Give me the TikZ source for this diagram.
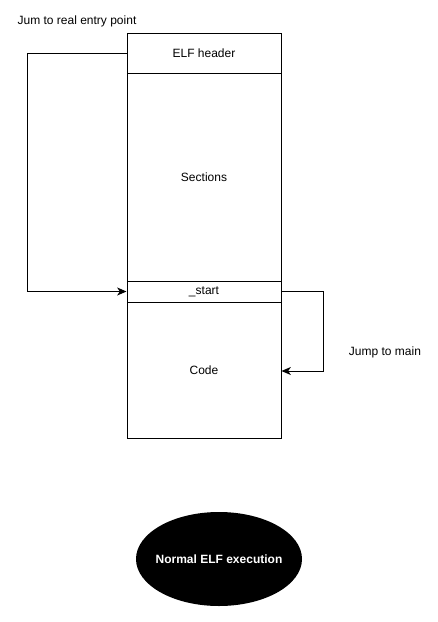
\documentclass[tikz,border=0pt]{standalone}
\usepackage{fontspec}
\setmainfont{Liberation Sans}
\usetikzlibrary{arrows.meta,shapes.geometric}
\begin{document}
\begin{tikzpicture}[x=0.75pt,y=-0.75pt,
  box/.style={draw,line width=0.75pt,rectangle,inner sep=0pt,minimum width=115.5pt,font=\fontsize{9}{11}\selectfont},
  lbl/.style={font=\fontsize{9}{11}\selectfont,inner sep=0pt},
  conn/.style={draw,line width=0.75pt,-{Stealth[length=7pt,width=6pt,inset=2pt]}},
  term/.style={ellipse,fill=black,text=white,minimum width=124.5pt,minimum height=70.5pt,inner xsep=-5pt,inner ysep=0pt,font=\bfseries\fontsize{9}{11}\selectfont}]
\useasboundingbox (0,0) rectangle (438,622);
\node[box,minimum height=30pt] (hdr) at (204,53) {ELF header};
\node[box,minimum height=156pt] (sec) at (204,177) {Sections};
\node[box,minimum height=15.75pt] (st) at (204,291.5) {\_start};
\node[box,minimum height=102pt] (code) at (204,370) {Code};
\coordinate (l1) at (27,53);
\coordinate (l2) at (27,291.5);
\coordinate (r1) at (323,291.5);
\coordinate (r2) at (323,371);
\draw[conn] (hdr.west) -- (l1) -- (l2) -- (st.west);
\draw[conn] (st.east) -- (r1) -- (r2) -- (code.east |- r2);
\node[lbl] (t1) at (77,21) {Jum to real entry point};
\node[lbl] (t2) at (385,352) {Jump to main};
\node[term] (ell) at (219,559) {Normal ELF execution};
\end{tikzpicture}
\end{document}
